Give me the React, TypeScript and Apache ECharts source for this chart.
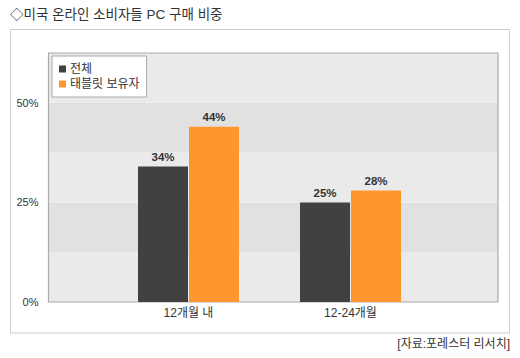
import React, { useEffect, useRef } from "react";
import * as echarts from "echarts";

const categories = ["12개월 내", "12-24개월"];
const seriesNames = ["전체", "태블릿 보유자"];
const totalValues = [34, 25];
const tabletValues = [44, 28];
const yTickLabels = [0, 25, 50];
const titleText = "◇미국 온라인 소비자들 PC 구매 비중";
const sourceText = "[자료:포레스터 리서치]";

const FONT = '"Liberation Sans", "Noto Sans CJK KR", sans-serif';

export default function App() {
  const ref = useRef<HTMLDivElement>(null);
  useEffect(() => {
    if (!ref.current) return;
    const chart = echarts.init(ref.current, null, { renderer: "svg" });
    const plotLeft = 48.5;
    const plotTop = 53;
    const plotW = 449.5;
    const plotH = 249;
    const barGridLeft = 107.5;
    const barGridW = 324;
    chart.setOption({
      animation: false,
      textStyle: { fontFamily: FONT },
      grid: [
        { left: plotLeft, top: plotTop, width: plotW, height: plotH, show: false },
        { left: barGridLeft, top: plotTop, width: barGridW, height: plotH, show: false },
      ],
      xAxis: [
        { type: "value", gridIndex: 0, show: false, min: 0, max: 1 },
        {
          type: "category",
          gridIndex: 1,
          data: categories,
          axisLine: { show: false },
          axisTick: { show: false },
          axisLabel: { color: "#333", fontSize: 12, margin: 5, fontFamily: FONT },
        },
      ],
      yAxis: [
        {
          type: "value",
          gridIndex: 0,
          min: 0,
          max: 62.5,
          interval: 12.5,
          axisLine: { show: false },
          axisTick: { show: false },
          splitLine: { show: false },
          splitArea: { show: true, areaStyle: { color: ["#eaeaea", "#e1e1e1"] } },
          axisLabel: {
            color: "#333",
            fontSize: 11,
            margin: 10,
            fontFamily: FONT,
            formatter: (v: number) => (yTickLabels.includes(v) ? v + "%" : ""),
          },
        },
        { type: "value", gridIndex: 1, min: 0, max: 62.5, show: false },
      ],
      legend: {
        orient: "vertical",
        left: 52,
        top: 56,
        backgroundColor: "#fff",
        borderColor: "#aaa",
        borderWidth: 1,
        padding: [7, 7, 7, 7],
        itemGap: 3,
        itemWidth: 7,
        itemHeight: 7,
        icon: "rect",
        textStyle: { color: "#333", fontSize: 12, fontFamily: FONT, padding: [0, 0, 0, -1] },
        data: seriesNames,
      },
      series: [
        {
          name: seriesNames[0],
          type: "bar",
          xAxisIndex: 1,
          yAxisIndex: 1,
          data: totalValues,
          barWidth: 50,
          barGap: "2%",
          itemStyle: { color: "#414141" },
          label: {
            show: true,
            position: "top",
            distance: 4,
            formatter: "{c}%",
            color: "#333",
            fontWeight: "bold",
            fontSize: 11.5,
            fontFamily: FONT,
          },
        },
        {
          name: seriesNames[1],
          type: "bar",
          xAxisIndex: 1,
          yAxisIndex: 1,
          data: tabletValues,
          barWidth: 50,
          barGap: "2%",
          itemStyle: { color: "#ff952d" },
          label: {
            show: true,
            position: "top",
            distance: 4,
            formatter: "{c}%",
            color: "#333",
            fontWeight: "bold",
            fontSize: 11.5,
            fontFamily: FONT,
          },
        },
      ],
      graphic: [
        {
          type: "text",
          left: 10,
          top: 8,
          style: { text: titleText, fill: "#333", fontSize: 13.5, fontFamily: FONT },
        },
        {
          type: "rect",
          shape: { x: 10.5, y: 29.5, width: 499, height: 303.5 },
          style: { fill: "none", stroke: "#cccccc", lineWidth: 1 },
          silent: true,
        },
        {
          type: "rect",
          shape: { x: plotLeft, y: plotTop, width: plotW, height: plotH },
          style: { fill: "none", stroke: "#aaaaaa", lineWidth: 1.2 },
          silent: true,
          z: 1,
        },
        {
          type: "text",
          right: 10,
          top: 338,
          style: { text: sourceText, fill: "#333", fontSize: 12, fontFamily: FONT },
        },
      ],
    });
    return () => chart.dispose();
  }, []);
  return <div ref={ref} style={{ width: 520, height: 358, position: "absolute", left: 0, top: 0 }} />;
}
